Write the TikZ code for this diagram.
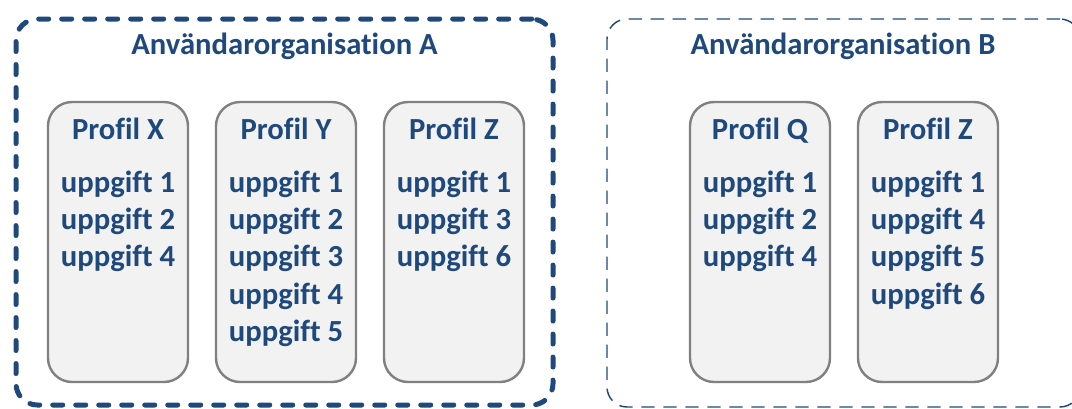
\documentclass[tikz,border=0pt]{standalone}
\usepackage{fontspec}
\setmainfont{Carlito}[Ligatures=NoCommon]
\usepackage{xcolor}
\usetikzlibrary{shapes, calc, positioning}
\definecolor{orgblue}{RGB}{31,73,125}
\definecolor{profgray}{RGB}{242,242,242}
\definecolor{profedge}{RGB}{128,128,128}

\begin{document}
\begin{tikzpicture}[x=0.75pt, y=-0.75pt, node distance=126pt]
		\tikzset{profil/.style={draw=profedge, line width=1.8pt, fill=profgray, rectangle, rounded corners=18pt, minimum width=105pt, minimum height=210pt, inner sep=0pt}}
		\tikzset{lista/.style={anchor=north, align=center, inner sep=0pt, text=orgblue, font=\fontsize{23}{28}\selectfont\bfseries}}

		\useasboundingbox (0,0) rectangle (1072,408);
		\clip (0,0) rectangle (1072,408);

		% Organisation A
		\node[rectangle, rounded corners=16pt, draw=orgblue, line width=3.75pt, dash pattern=on 7.5pt off 9.75pt, line cap=round, minimum width=402.75pt, minimum height=289.5pt, inner sep=0pt] (orgA) at (284.5,212) {};
		\node[lista, anchor=center] (orgAtitle) at (284.5,46) {Användarorganisation A};

		% Organisation A profiles
		\node[profil] (profX) at (118,242) {};
		\node[profil, right of=profX] (profY) {};
		\node[profil, right of=profY] (profZa) {};

		\node[lista] (listX) at ($(profX.north)+(0,17)$) {Profil X\\[11.5pt]uppgift 1\\uppgift 2\\uppgift 4};
		\node[lista] (listY) at ($(profY.north)+(0,17)$) {Profil Y\\[11.5pt]uppgift 1\\uppgift 2\\uppgift 3\\uppgift 4\\uppgift 5};
		\node[lista] (listZa) at ($(profZa.north)+(0,17)$) {Profil Z\\[11.5pt]uppgift 1\\uppgift 3\\uppgift 6};

		% Organisation B
		\node[rectangle, rounded corners=15pt, draw=orgblue, line width=1.1pt, dash pattern=on 10pt off 6.5pt, minimum width=354.75pt, minimum height=291pt, inner sep=0pt] (orgB) at (843.5,213) {};
		\node[lista, anchor=center] (orgBtitle) at (843,46) {Användarorganisation B};

		% Organisation B profiles
		\node[profil] (profQ) at (760,242) {};
		\node[profil, right of=profQ] (profZb) {};

		\node[lista] (listQ) at ($(profQ.north)+(0,17)$) {Profil Q\\[11.5pt]uppgift 1\\uppgift 2\\uppgift 4};
		\node[lista] (listZb) at ($(profZb.north)+(0,17)$) {Profil Z\\[11.5pt]uppgift 1\\uppgift 4\\uppgift 5\\uppgift 6};

	\end{tikzpicture}
\end{document}
